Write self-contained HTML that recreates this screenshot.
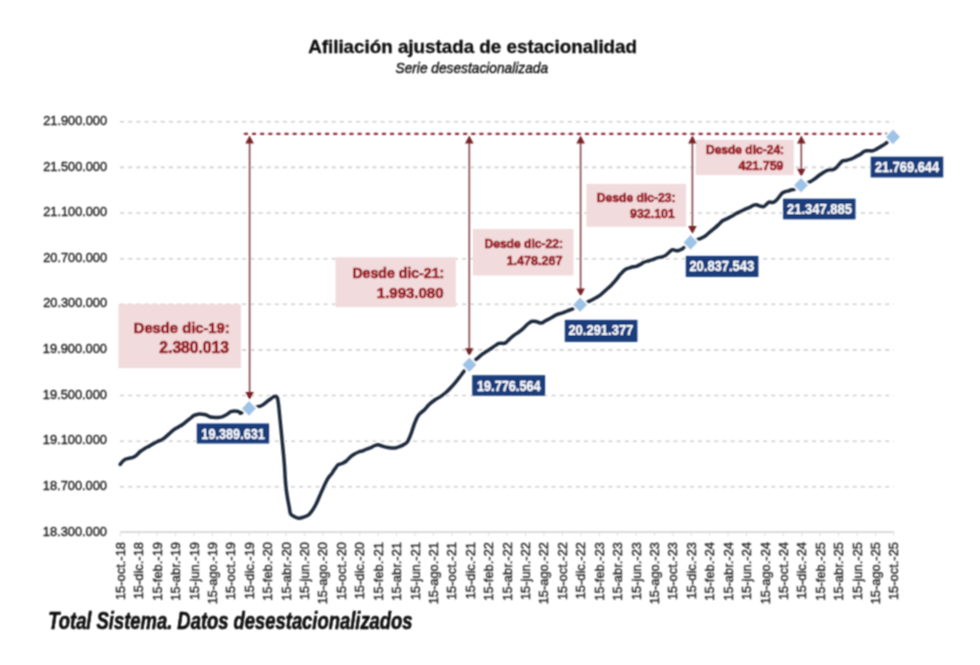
<!DOCTYPE html>
<html><head><meta charset="utf-8"><title>Afiliación ajustada de estacionalidad</title>
<style>
html,body{margin:0;padding:0;background:#fff;}
body{width:980px;height:665px;overflow:hidden;position:relative;font-family:"Liberation Sans", sans-serif;}
svg{position:absolute;left:0;top:0;}
text{font-family:"Liberation Sans", sans-serif;}
</style></head><body>
<svg width="980" height="665" viewBox="0 0 980 665">
<defs><filter id="soft" x="0" y="0" width="980" height="665" filterUnits="userSpaceOnUse"><feConvolveMatrix order="3" kernelMatrix="0.0625 0.125 0.0625 0.125 0.25 0.125 0.0625 0.125 0.0625" edgeMode="duplicate"/></filter></defs>
<rect width="980" height="665" fill="#fff"/>
<g filter="url(#soft)">
<g stroke="#d0d0d0" stroke-width="1.6" stroke-dasharray="4.07 4.07">
<line x1="120.05" y1="121.8" x2="893.9" y2="121.8"/>
<line x1="120.05" y1="167.4" x2="893.9" y2="167.4"/>
<line x1="120.05" y1="213.0" x2="893.9" y2="213.0"/>
<line x1="120.05" y1="258.7" x2="893.9" y2="258.7"/>
<line x1="120.05" y1="304.3" x2="893.9" y2="304.3"/>
<line x1="120.05" y1="349.9" x2="893.9" y2="349.9"/>
<line x1="120.05" y1="395.5" x2="893.9" y2="395.5"/>
<line x1="120.05" y1="441.2" x2="893.9" y2="441.2"/>
<line x1="120.05" y1="486.8" x2="893.9" y2="486.8"/>
</g>
<line x1="120.3" y1="532.1" x2="893.9" y2="532.1" stroke="#d6d6d6" stroke-width="1.8"/>
<g stroke="#dedede" stroke-width="1">
<line x1="120.3" y1="532.4" x2="120.3" y2="535.9"/>
<line x1="138.7" y1="532.4" x2="138.7" y2="535.9"/>
<line x1="157.1" y1="532.4" x2="157.1" y2="535.9"/>
<line x1="175.6" y1="532.4" x2="175.6" y2="535.9"/>
<line x1="194.0" y1="532.4" x2="194.0" y2="535.9"/>
<line x1="212.4" y1="532.4" x2="212.4" y2="535.9"/>
<line x1="230.8" y1="532.4" x2="230.8" y2="535.9"/>
<line x1="249.2" y1="532.4" x2="249.2" y2="535.9"/>
<line x1="267.7" y1="532.4" x2="267.7" y2="535.9"/>
<line x1="286.1" y1="532.4" x2="286.1" y2="535.9"/>
<line x1="304.5" y1="532.4" x2="304.5" y2="535.9"/>
<line x1="322.9" y1="532.4" x2="322.9" y2="535.9"/>
<line x1="341.3" y1="532.4" x2="341.3" y2="535.9"/>
<line x1="359.7" y1="532.4" x2="359.7" y2="535.9"/>
<line x1="378.2" y1="532.4" x2="378.2" y2="535.9"/>
<line x1="396.6" y1="532.4" x2="396.6" y2="535.9"/>
<line x1="415.0" y1="532.4" x2="415.0" y2="535.9"/>
<line x1="433.4" y1="532.4" x2="433.4" y2="535.9"/>
<line x1="451.8" y1="532.4" x2="451.8" y2="535.9"/>
<line x1="470.3" y1="532.4" x2="470.3" y2="535.9"/>
<line x1="488.7" y1="532.4" x2="488.7" y2="535.9"/>
<line x1="507.1" y1="532.4" x2="507.1" y2="535.9"/>
<line x1="525.5" y1="532.4" x2="525.5" y2="535.9"/>
<line x1="543.9" y1="532.4" x2="543.9" y2="535.9"/>
<line x1="562.4" y1="532.4" x2="562.4" y2="535.9"/>
<line x1="580.8" y1="532.4" x2="580.8" y2="535.9"/>
<line x1="599.2" y1="532.4" x2="599.2" y2="535.9"/>
<line x1="617.6" y1="532.4" x2="617.6" y2="535.9"/>
<line x1="636.0" y1="532.4" x2="636.0" y2="535.9"/>
<line x1="654.5" y1="532.4" x2="654.5" y2="535.9"/>
<line x1="672.9" y1="532.4" x2="672.9" y2="535.9"/>
<line x1="691.3" y1="532.4" x2="691.3" y2="535.9"/>
<line x1="709.7" y1="532.4" x2="709.7" y2="535.9"/>
<line x1="728.1" y1="532.4" x2="728.1" y2="535.9"/>
<line x1="746.5" y1="532.4" x2="746.5" y2="535.9"/>
<line x1="765.0" y1="532.4" x2="765.0" y2="535.9"/>
<line x1="783.4" y1="532.4" x2="783.4" y2="535.9"/>
<line x1="801.8" y1="532.4" x2="801.8" y2="535.9"/>
<line x1="820.2" y1="532.4" x2="820.2" y2="535.9"/>
<line x1="838.6" y1="532.4" x2="838.6" y2="535.9"/>
<line x1="857.1" y1="532.4" x2="857.1" y2="535.9"/>
<line x1="875.5" y1="532.4" x2="875.5" y2="535.9"/>
<line x1="893.9" y1="532.4" x2="893.9" y2="535.9"/>
</g>
<g font-size="12.9" fill="#2a2a2a" stroke="#2a2a2a" stroke-width="0.4" text-anchor="end">
<text transform="translate(124.8,542) rotate(-90)">15-oct.-18</text>
<text transform="translate(143.2,542) rotate(-90)">15-dic.-18</text>
<text transform="translate(161.6,542) rotate(-90)">15-feb.-19</text>
<text transform="translate(180.1,542) rotate(-90)">15-abr.-19</text>
<text transform="translate(198.5,542) rotate(-90)">15-jun.-19</text>
<text transform="translate(216.9,542) rotate(-90)">15-ago.-19</text>
<text transform="translate(235.3,542) rotate(-90)">15-oct.-19</text>
<text transform="translate(253.7,542) rotate(-90)">15-dic.-19</text>
<text transform="translate(272.2,542) rotate(-90)">15-feb.-20</text>
<text transform="translate(290.6,542) rotate(-90)">15-abr.-20</text>
<text transform="translate(309.0,542) rotate(-90)">15-jun.-20</text>
<text transform="translate(327.4,542) rotate(-90)">15-ago.-20</text>
<text transform="translate(345.8,542) rotate(-90)">15-oct.-20</text>
<text transform="translate(364.2,542) rotate(-90)">15-dic.-20</text>
<text transform="translate(382.7,542) rotate(-90)">15-feb.-21</text>
<text transform="translate(401.1,542) rotate(-90)">15-abr.-21</text>
<text transform="translate(419.5,542) rotate(-90)">15-jun.-21</text>
<text transform="translate(437.9,542) rotate(-90)">15-ago.-21</text>
<text transform="translate(456.3,542) rotate(-90)">15-oct.-21</text>
<text transform="translate(474.8,542) rotate(-90)">15-dic.-21</text>
<text transform="translate(493.2,542) rotate(-90)">15-feb.-22</text>
<text transform="translate(511.6,542) rotate(-90)">15-abr.-22</text>
<text transform="translate(530.0,542) rotate(-90)">15-jun.-22</text>
<text transform="translate(548.4,542) rotate(-90)">15-ago.-22</text>
<text transform="translate(566.9,542) rotate(-90)">15-oct.-22</text>
<text transform="translate(585.3,542) rotate(-90)">15-dic.-22</text>
<text transform="translate(603.7,542) rotate(-90)">15-feb.-23</text>
<text transform="translate(622.1,542) rotate(-90)">15-abr.-23</text>
<text transform="translate(640.5,542) rotate(-90)">15-jun.-23</text>
<text transform="translate(659.0,542) rotate(-90)">15-ago.-23</text>
<text transform="translate(677.4,542) rotate(-90)">15-oct.-23</text>
<text transform="translate(695.8,542) rotate(-90)">15-dic.-23</text>
<text transform="translate(714.2,542) rotate(-90)">15-feb.-24</text>
<text transform="translate(732.6,542) rotate(-90)">15-abr.-24</text>
<text transform="translate(751.0,542) rotate(-90)">15-jun.-24</text>
<text transform="translate(769.5,542) rotate(-90)">15-ago.-24</text>
<text transform="translate(787.9,542) rotate(-90)">15-oct.-24</text>
<text transform="translate(806.3,542) rotate(-90)">15-dic.-24</text>
<text transform="translate(824.7,542) rotate(-90)">15-feb.-25</text>
<text transform="translate(843.1,542) rotate(-90)">15-abr.-25</text>
<text transform="translate(861.6,542) rotate(-90)">15-jun.-25</text>
<text transform="translate(880.0,542) rotate(-90)">15-ago.-25</text>
<text transform="translate(898.4,542) rotate(-90)">15-oct.-25</text>
</g>
<rect x="118.4" y="304.2" width="122.5" height="63.9" fill="#f1dbdc"/>
<rect x="335.5" y="257.3" width="120.3" height="49.8" fill="#f1dbdc"/>
<rect x="472.9" y="229.0" width="100.6" height="46.5" fill="#f1dbdc"/>
<rect x="586.4" y="183.9" width="99.7" height="42.9" fill="#f1dbdc"/>
<rect x="695.7" y="139.9" width="98.1" height="35.2" fill="#f1dbdc"/>
<path d="M120.2,464.3 C120.8,463.6 122.6,461.1 124.0,460.1 C125.4,459.1 127.0,458.8 128.5,458.3 C130.0,457.9 131.7,457.9 133.0,457.4 C134.3,456.9 135.4,456.1 136.6,455.1 C137.8,454.1 138.8,452.6 140.2,451.5 C141.6,450.4 143.3,449.3 144.8,448.4 C146.3,447.5 147.8,446.9 149.3,446.1 C150.8,445.3 152.3,444.2 153.8,443.4 C155.3,442.6 157.0,441.7 158.3,441.1 C159.7,440.5 160.7,440.5 161.9,439.8 C163.1,439.1 164.3,438.1 165.5,437.1 C166.7,436.1 167.8,435.1 169.1,433.9 C170.4,432.7 172.1,431.0 173.6,429.9 C175.1,428.8 176.6,428.1 178.1,427.2 C179.6,426.3 181.1,425.6 182.6,424.5 C184.1,423.4 185.6,422.1 187.1,420.9 C188.6,419.7 190.4,418.2 191.6,417.3 C192.8,416.4 193.0,415.9 194.1,415.4 C195.2,414.9 196.8,414.4 198.2,414.2 C199.5,414.0 200.8,414.1 202.2,414.2 C203.5,414.3 204.9,414.5 206.3,415.0 C207.7,415.5 209.0,416.6 210.4,417.0 C211.8,417.4 213.1,417.3 214.5,417.4 C215.9,417.5 217.2,417.5 218.6,417.4 C220.0,417.3 221.3,417.1 222.7,416.6 C224.0,416.1 225.3,415.4 226.7,414.6 C228.0,413.8 229.4,412.3 230.8,411.7 C232.2,411.1 233.5,410.9 234.9,410.9 C236.3,410.9 238.0,411.3 239.0,411.7 C240.0,412.1 239.3,413.6 241.0,413.0 C242.7,412.4 245.9,409.5 249.0,408.4 C252.1,407.3 257.0,407.1 259.4,406.4 C261.8,405.7 262.1,405.3 263.5,404.4 C264.9,403.5 266.4,402.0 267.6,401.1 C268.8,400.2 269.6,399.7 270.5,399.0 C271.4,398.3 272.4,397.5 273.3,397.0 C274.2,396.5 275.0,396.0 275.7,396.2 C276.4,396.4 277.0,396.5 277.5,398.2 C278.0,399.9 278.3,402.8 278.7,406.1 C279.1,409.4 279.5,414.1 279.9,418.1 C280.3,422.1 280.7,426.2 281.1,430.2 C281.5,434.2 281.9,438.2 282.3,442.2 C282.7,446.2 283.1,450.3 283.5,454.3 C283.9,458.3 284.2,461.8 284.5,466.0 C284.8,470.2 285.0,475.6 285.3,479.5 C285.6,483.4 285.8,486.0 286.2,489.3 C286.6,492.6 287.2,496.2 287.7,499.1 C288.2,502.0 288.7,504.4 289.2,506.9 C289.7,509.3 289.7,512.2 290.6,513.8 C291.5,515.4 293.1,516.0 294.5,516.7 C295.9,517.4 297.5,518.1 299.0,518.2 C300.5,518.3 301.8,517.7 303.3,517.2 C304.8,516.7 306.7,516.3 308.2,515.2 C309.7,514.1 310.8,512.7 312.1,510.8 C313.4,508.9 314.8,506.6 316.1,504.0 C317.4,501.4 318.7,498.1 320.0,495.2 C321.3,492.3 322.6,489.2 323.9,486.4 C325.2,483.6 326.5,480.7 327.8,478.6 C329.1,476.5 330.6,475.2 331.7,473.7 C332.8,472.2 333.4,470.9 334.5,469.4 C335.6,467.9 336.9,465.7 338.2,464.7 C339.5,463.7 340.8,464.1 342.2,463.5 C343.6,462.9 344.9,462.1 346.3,461.0 C347.7,459.9 349.0,458.0 350.4,456.9 C351.8,455.8 353.1,454.9 354.5,454.1 C355.9,453.3 357.2,452.6 358.6,452.0 C360.0,451.4 361.4,451.3 362.7,450.8 C364.0,450.3 365.3,449.7 366.7,449.2 C368.1,448.7 369.4,448.2 370.8,447.6 C372.2,447.0 373.7,446.0 374.9,445.5 C376.1,445.0 377.2,444.7 378.2,444.7 C379.1,444.7 379.7,445.2 380.6,445.5 C381.6,445.8 382.7,446.3 383.9,446.7 C385.1,447.1 386.6,447.4 388.0,447.6 C389.4,447.8 390.8,447.9 392.0,448.0 C393.2,448.1 394.1,448.2 395.3,448.0 C396.5,447.8 398.0,447.2 399.4,446.7 C400.8,446.1 402.1,445.6 403.5,444.7 C404.9,443.8 406.3,443.3 407.6,441.4 C408.9,439.5 410.1,436.1 411.2,433.4 C412.3,430.7 413.0,427.6 414.0,425.0 C415.0,422.4 416.1,419.5 417.0,417.7 C417.9,415.9 418.2,415.4 419.4,414.1 C420.6,412.8 422.6,411.5 424.2,409.9 C425.8,408.3 427.3,406.2 429.1,404.5 C430.9,402.8 433.1,401.1 435.1,399.7 C437.1,398.3 439.3,397.3 441.1,396.1 C442.9,394.9 444.3,393.9 445.9,392.5 C447.5,391.1 449.1,389.4 450.7,387.7 C452.3,386.0 453.9,384.2 455.5,382.3 C457.1,380.4 458.9,378.0 460.3,376.2 C461.7,374.4 462.4,373.3 463.9,371.4 C465.4,369.5 467.1,366.9 469.4,364.7 C471.7,362.5 475.6,359.9 477.7,358.2 C479.8,356.5 480.3,355.7 481.7,354.6 C483.1,353.5 484.7,352.5 486.2,351.5 C487.7,350.5 489.2,349.8 490.7,348.8 C492.2,347.8 493.8,346.5 495.2,345.6 C496.6,344.7 497.5,343.8 498.9,343.4 C500.3,343.0 502.2,343.5 503.4,343.4 C504.6,343.2 505.1,343.2 506.1,342.5 C507.2,341.8 508.3,340.1 509.7,338.9 C511.1,337.7 512.7,336.3 514.2,335.2 C515.7,334.1 517.2,333.2 518.7,332.1 C520.2,331.0 521.7,329.9 523.2,328.5 C524.7,327.1 526.2,325.2 527.7,324.0 C529.2,322.8 530.7,321.7 532.2,321.3 C533.7,320.9 535.2,321.4 536.7,321.7 C538.2,322.0 539.7,323.2 541.2,323.1 C542.7,323.0 544.0,321.6 545.5,320.8 C547.0,320.0 548.5,319.3 550.3,318.3 C552.1,317.3 554.4,315.7 556.3,314.8 C558.2,313.9 560.0,313.8 561.9,313.1 C563.8,312.5 565.8,311.5 567.5,310.9 C569.2,310.2 570.0,310.2 572.1,309.2 C574.2,308.2 577.3,306.1 580.1,304.8 C582.9,303.5 586.6,302.4 589.0,301.3 C591.4,300.2 592.7,299.5 594.6,298.5 C596.5,297.5 598.3,296.5 600.2,295.1 C602.1,293.7 604.0,291.7 605.9,290.0 C607.8,288.3 609.8,286.6 611.5,284.9 C613.2,283.2 614.5,281.7 616.0,279.9 C617.5,278.1 619.0,275.9 620.5,274.2 C622.0,272.5 623.3,270.8 625.0,269.7 C626.7,268.6 628.8,268.1 630.7,267.5 C632.6,266.9 634.7,266.8 636.3,266.3 C637.9,265.8 639.2,265.0 640.4,264.4 C641.6,263.8 642.3,263.0 643.6,262.4 C644.9,261.8 646.6,261.4 648.1,261.0 C649.6,260.6 651.1,260.2 652.6,259.7 C654.1,259.2 655.6,258.3 657.1,257.9 C658.6,257.4 660.2,257.4 661.6,257.0 C663.0,256.6 664.0,256.4 665.2,255.6 C666.4,254.8 667.8,253.5 668.9,252.5 C670.0,251.5 671.0,250.2 672.0,249.8 C673.0,249.4 673.7,250.0 674.7,250.2 C675.7,250.3 676.8,250.8 677.9,250.7 C679.0,250.5 680.6,249.8 681.5,249.3 C682.4,248.9 681.8,249.2 683.3,248.0 C684.8,246.8 687.8,243.9 690.5,242.4 C693.2,240.9 697.1,239.9 699.5,238.9 C701.9,237.9 702.9,237.5 704.9,236.2 C706.9,234.8 709.5,232.2 711.2,230.8 C712.9,229.4 713.8,228.8 715.0,227.8 C716.2,226.8 717.4,225.7 718.6,224.6 C719.8,223.5 720.9,222.0 722.2,221.0 C723.6,220.0 725.2,219.6 726.7,218.8 C728.2,218.1 729.7,217.3 731.2,216.5 C732.7,215.7 734.2,214.6 735.7,213.8 C737.2,213.0 738.7,212.3 740.2,211.6 C741.7,210.8 743.3,210.0 744.8,209.3 C746.3,208.6 747.8,208.2 749.3,207.5 C750.8,206.8 752.6,205.6 753.8,205.2 C755.0,204.8 755.5,204.7 756.5,204.8 C757.5,205.0 758.9,205.8 760.1,206.1 C761.3,206.4 762.7,206.9 763.7,206.6 C764.8,206.3 765.5,205.1 766.4,204.3 C767.3,203.6 768.0,202.4 769.1,202.1 C770.2,201.8 771.5,202.8 772.7,202.5 C773.9,202.2 775.2,201.2 776.3,200.3 C777.3,199.4 778.0,198.3 779.0,197.1 C780.0,195.9 781.2,194.0 782.2,193.1 C783.2,192.2 784.2,192.1 785.3,191.7 C786.4,191.3 787.8,191.1 788.9,190.8 C790.0,190.5 790.8,189.9 791.6,189.7 C792.4,189.5 792.3,190.2 793.9,189.5 C795.5,188.8 798.3,186.5 801.0,185.2 C803.7,183.9 807.7,182.8 809.9,181.8 C812.1,180.8 812.9,180.2 814.4,179.1 C815.9,178.0 817.4,176.6 818.9,175.5 C820.4,174.4 821.9,173.3 823.4,172.4 C824.9,171.5 826.5,170.6 828.0,170.1 C829.5,169.6 831.1,170.1 832.5,169.7 C833.9,169.3 834.9,168.9 836.1,167.9 C837.3,166.9 838.7,164.9 839.7,163.8 C840.8,162.7 841.2,161.7 842.4,161.1 C843.6,160.5 845.4,160.6 846.9,160.2 C848.4,159.8 849.9,159.5 851.4,158.9 C852.9,158.3 854.4,157.4 855.9,156.6 C857.4,155.8 859.2,155.1 860.4,154.3 C861.6,153.6 862.2,152.7 863.2,152.1 C864.2,151.5 865.2,151.0 866.3,150.8 C867.3,150.6 868.5,150.8 869.5,150.8 C870.5,150.8 871.6,151.0 872.6,150.8 C873.6,150.6 874.8,150.0 875.8,149.5 C876.8,149.0 877.8,148.2 878.9,147.6 C880.0,147.0 881.0,146.5 882.1,145.8 C883.2,145.1 884.0,144.9 885.8,143.4 C887.6,141.9 891.8,138.0 893.0,136.9" fill="none" stroke="#1f2a3d" stroke-width="3.5" stroke-linejoin="round" stroke-linecap="round"/>
<line x1="243.9" y1="133.9" x2="889" y2="133.9" stroke="#8e3138" stroke-width="2.1" stroke-dasharray="4.06 4.06"/>
<line x1="249.6" y1="141.5" x2="249.6" y2="394.0" stroke="#84474a" stroke-width="1.6"/>
<path d="M249.6,135.5 L253.9,143.5 L245.29999999999998,143.5 Z" fill="#7a2327"/>
<path d="M249.6,400.0 L253.9,392.0 L245.29999999999998,392.0 Z" fill="#7a2327"/>
<line x1="469.3" y1="141.5" x2="469.3" y2="350.3" stroke="#84474a" stroke-width="1.6"/>
<path d="M469.3,135.5 L473.6,143.5 L465.0,143.5 Z" fill="#7a2327"/>
<path d="M469.3,356.3 L473.6,348.3 L465.0,348.3 Z" fill="#7a2327"/>
<line x1="580.6" y1="141.5" x2="580.6" y2="290.40000000000003" stroke="#84474a" stroke-width="1.6"/>
<path d="M580.6,135.5 L584.9,143.5 L576.3000000000001,143.5 Z" fill="#7a2327"/>
<path d="M580.6,296.40000000000003 L584.9,288.40000000000003 L576.3000000000001,288.40000000000003 Z" fill="#7a2327"/>
<line x1="692.4" y1="141.5" x2="692.4" y2="228.0" stroke="#84474a" stroke-width="1.6"/>
<path d="M692.4,135.5 L696.6999999999999,143.5 L688.1,143.5 Z" fill="#7a2327"/>
<path d="M692.4,234.0 L696.6999999999999,226.0 L688.1,226.0 Z" fill="#7a2327"/>
<line x1="801.3" y1="141.5" x2="801.3" y2="170.79999999999998" stroke="#84474a" stroke-width="1.6"/>
<path d="M801.3,135.5 L805.5999999999999,143.5 L797.0,143.5 Z" fill="#7a2327"/>
<path d="M801.3,176.79999999999998 L805.5999999999999,168.79999999999998 L797.0,168.79999999999998 Z" fill="#7a2327"/>
<path d="M249.0,401.1 L256.0,408.4 L249.0,415.7 L242.0,408.4 Z" fill="#9dc3e6" stroke="#fff" stroke-width="3.2" stroke-linejoin="miter" paint-order="stroke"/>
<path d="M469.4,357.4 L476.4,364.7 L469.4,372.0 L462.4,364.7 Z" fill="#9dc3e6" stroke="#fff" stroke-width="3.2" stroke-linejoin="miter" paint-order="stroke"/>
<path d="M580.1,297.5 L587.1,304.8 L580.1,312.1 L573.1,304.8 Z" fill="#9dc3e6" stroke="#fff" stroke-width="3.2" stroke-linejoin="miter" paint-order="stroke"/>
<path d="M690.5,235.1 L697.5,242.4 L690.5,249.7 L683.5,242.4 Z" fill="#9dc3e6" stroke="#fff" stroke-width="3.2" stroke-linejoin="miter" paint-order="stroke"/>
<path d="M801.0,177.9 L808.0,185.2 L801.0,192.5 L794.0,185.2 Z" fill="#9dc3e6" stroke="#fff" stroke-width="3.2" stroke-linejoin="miter" paint-order="stroke"/>
<path d="M893.0,129.6 L900.0,136.9 L893.0,144.2 L886.0,136.9 Z" fill="#9dc3e6" stroke="#fff" stroke-width="3.2" stroke-linejoin="miter" paint-order="stroke"/>
<rect x="196.8" y="423.5" width="72.3" height="20.0" fill="#1b3e7c"/>
<rect x="472.2" y="375.2" width="72.9" height="20.6" fill="#1b3e7c"/>
<rect x="564.8" y="319.9" width="72.6" height="22.0" fill="#1b3e7c"/>
<rect x="685.8" y="255.9" width="72.6" height="21.0" fill="#1b3e7c"/>
<rect x="783.1" y="198.7" width="72.4" height="20.6" fill="#1b3e7c"/>
<rect x="870.7" y="156.7" width="72.5" height="20.7" fill="#1b3e7c"/>
<text transform="translate(308.14,53.40) scale(1.0319,1)" font-size="18.22" font-weight="bold" fill="#0d0d0d" stroke="#0d0d0d" stroke-width="0.3">Afiliación ajustada de estacionalidad</text>
<text transform="translate(395.49,73.10) scale(0.9736,1)" font-size="14.11" font-style="italic" fill="#141414" stroke="#141414" stroke-width="0.4">Serie desestacionalizada</text>
<text transform="translate(43.26,124.90) scale(0.9701,1)" font-size="13.14" fill="#262626" stroke="#262626" stroke-width="0.4">21.900.000</text>
<text transform="translate(43.26,170.52) scale(0.9701,1)" font-size="13.14" fill="#262626" stroke="#262626" stroke-width="0.4">21.500.000</text>
<text transform="translate(43.26,216.14) scale(0.9701,1)" font-size="13.14" fill="#262626" stroke="#262626" stroke-width="0.4">21.100.000</text>
<text transform="translate(43.26,261.77) scale(0.9701,1)" font-size="13.14" fill="#262626" stroke="#262626" stroke-width="0.4">20.700.000</text>
<text transform="translate(43.26,307.39) scale(0.9701,1)" font-size="13.14" fill="#262626" stroke="#262626" stroke-width="0.4">20.300.000</text>
<text transform="translate(42.87,353.01) scale(0.9760,1)" font-size="13.14" fill="#262626" stroke="#262626" stroke-width="0.4">19.900.000</text>
<text transform="translate(42.87,398.63) scale(0.9760,1)" font-size="13.14" fill="#262626" stroke="#262626" stroke-width="0.4">19.500.000</text>
<text transform="translate(42.87,444.26) scale(0.9760,1)" font-size="13.14" fill="#262626" stroke="#262626" stroke-width="0.4">19.100.000</text>
<text transform="translate(42.87,489.88) scale(0.9760,1)" font-size="13.14" fill="#262626" stroke="#262626" stroke-width="0.4">18.700.000</text>
<text transform="translate(42.87,535.50) scale(0.9760,1)" font-size="13.14" fill="#262626" stroke="#262626" stroke-width="0.4">18.300.000</text>
<text transform="translate(133.77,332.70) scale(0.9520,1)" font-size="15.51" font-weight="bold" fill="#9a1720" stroke="#9a1720" stroke-width="0.65">Desde dic-19:</text>
<text transform="translate(159.33,353.00) scale(0.9789,1)" font-size="16.00" font-weight="bold" fill="#9a1720" stroke="#9a1720" stroke-width="0.65">2.380.013</text>
<text transform="translate(352.41,278.40) scale(0.9376,1)" font-size="15.07" font-weight="bold" fill="#9a1720" stroke="#9a1720" stroke-width="0.65">Desde dic-21:</text>
<text transform="translate(376.80,297.50) scale(0.9821,1)" font-size="15.29" font-weight="bold" fill="#9a1720" stroke="#9a1720" stroke-width="0.65">1.993.080</text>
<text transform="translate(484.45,248.10) scale(0.9706,1)" font-size="12.46" font-weight="bold" fill="#9a1720" stroke="#9a1720" stroke-width="0.65">Desde dic-22:</text>
<text transform="translate(506.44,265.10) scale(0.9207,1)" font-size="13.71" font-weight="bold" fill="#9a1720" stroke="#9a1720" stroke-width="0.65">1.478.267</text>
<text transform="translate(596.85,201.60) scale(0.9833,1)" font-size="12.32" font-weight="bold" fill="#9a1720" stroke="#9a1720" stroke-width="0.65">Desde dic-23:</text>
<text transform="translate(630.11,218.10) scale(0.9017,1)" font-size="13.71" font-weight="bold" fill="#9a1720" stroke="#9a1720" stroke-width="0.65">932.101</text>
<text transform="translate(705.96,153.60) scale(0.9436,1)" font-size="12.75" font-weight="bold" fill="#9a1720" stroke="#9a1720" stroke-width="0.65">Desde dic-24:</text>
<text transform="translate(738.55,169.80) scale(0.9468,1)" font-size="13.14" font-weight="bold" fill="#9a1720" stroke="#9a1720" stroke-width="0.65">421.759</text>
<text transform="translate(201.34,439.20) scale(0.8550,1)" font-size="14.86" font-weight="bold" fill="#ffffff" stroke="#ffffff" stroke-width="0.25">19.389.631</text>
<text transform="translate(476.94,390.80) scale(0.8570,1)" font-size="14.86" font-weight="bold" fill="#ffffff" stroke="#ffffff" stroke-width="0.25">19.776.564</text>
<text transform="translate(568.41,335.20) scale(0.8738,1)" font-size="14.86" font-weight="bold" fill="#ffffff" stroke="#ffffff" stroke-width="0.25">20.291.377</text>
<text transform="translate(689.41,271.30) scale(0.9254,1)" font-size="14.00" font-weight="bold" fill="#ffffff" stroke="#ffffff" stroke-width="0.25">20.837.543</text>
<text transform="translate(787.01,213.60) scale(0.9360,1)" font-size="13.86" font-weight="bold" fill="#ffffff" stroke="#ffffff" stroke-width="0.25">21.347.885</text>
<text transform="translate(874.91,171.80) scale(0.8810,1)" font-size="14.57" font-weight="bold" fill="#ffffff" stroke="#ffffff" stroke-width="0.25">21.769.644</text>
<text transform="translate(48.21,629.10) scale(0.7988,1)" font-size="23.04" font-weight="bold" font-style="italic" fill="#0a0a0a" stroke="#0a0a0a" stroke-width="0.5">Total Sistema. Datos desestacionalizados</text>
</g></svg></body></html>
